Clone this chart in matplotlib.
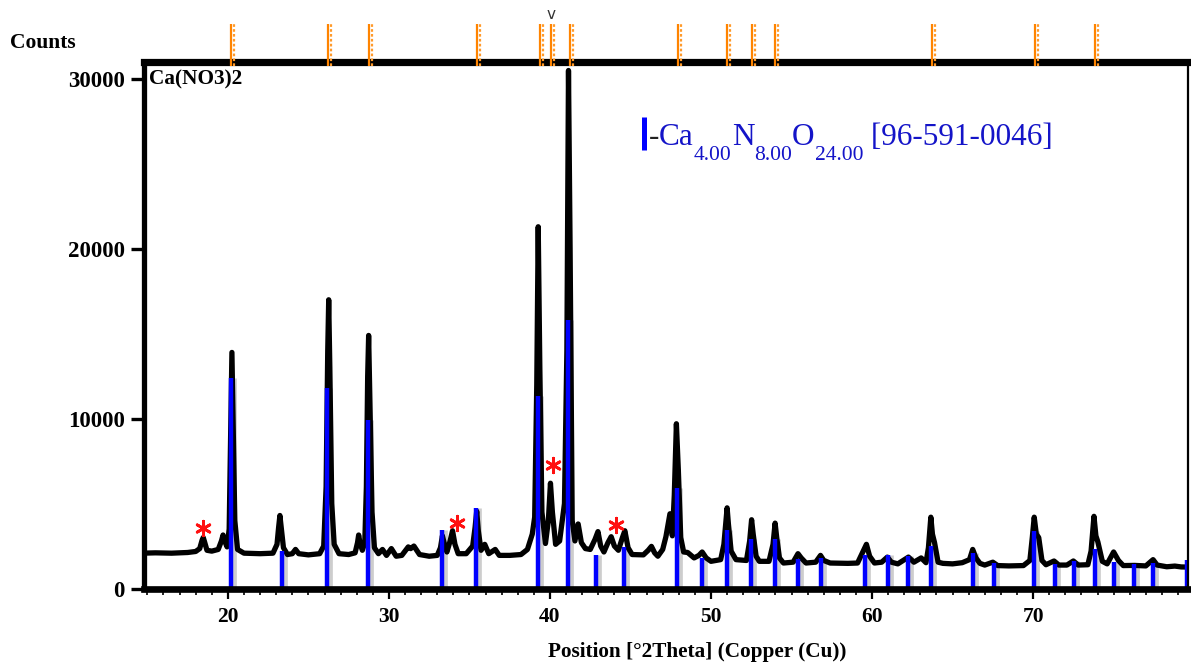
import matplotlib
matplotlib.use("Agg")
import matplotlib.pyplot as plt
from matplotlib.ticker import MultipleLocator, FixedLocator
from matplotlib.transforms import blended_transform_factory, offset_copy

# Measured diffraction pattern (2θ in degrees, intensity in counts)
two_theta = [
    14.7, 15.5, 16.5, 17.5, 18.0, 18.25, 18.4, 18.47, 18.55, 18.7, 19.0, 19.4,
    19.6, 19.7, 19.8, 19.95, 20.08, 20.17, 20.25, 20.33, 20.43, 20.6, 21.0, 22.0,
    22.8, 23.05, 23.15, 23.23, 23.32, 23.45, 23.7, 24.0, 24.2, 24.4, 25.0, 25.7,
    25.95, 26.1, 26.2, 26.26, 26.33, 26.45, 26.6, 26.9, 27.5, 27.9, 28.05, 28.12,
    28.2, 28.35, 28.5, 28.6, 28.68, 28.74, 28.82, 28.95, 29.1, 29.35, 29.6, 29.85,
    30.15, 30.45, 30.8, 31.2, 31.35, 31.55, 31.9, 32.5, 33.0, 33.2, 33.32, 33.45,
    33.6, 33.8, 33.95, 34.1, 34.3, 34.8, 35.2, 35.35, 35.45, 35.55, 35.72, 35.95,
    36.2, 36.6, 36.85, 37.5, 38.2, 38.6, 38.9, 39.05, 39.18, 39.27, 39.37, 39.5,
    39.72, 39.9, 40.03, 40.15, 40.35, 40.6, 40.9, 41.05, 41.15, 41.25, 41.38, 41.55,
    41.75, 41.95, 42.2, 42.5, 42.8, 42.98, 43.15, 43.35, 43.6, 43.8, 44.0, 44.25,
    44.5, 44.65, 44.85, 45.1, 45.8, 46.1, 46.3, 46.5, 46.7, 47.0, 47.2, 47.45,
    47.6, 47.72, 47.85, 47.97, 48.12, 48.3, 48.55, 48.95, 49.25, 49.45, 49.7, 50.0,
    50.6, 50.8, 50.93, 51.0, 51.08, 51.25, 51.55, 52.2, 52.4, 52.52, 52.62, 52.8,
    53.0, 53.6, 53.85, 53.98, 54.08, 54.25, 54.5, 55.1, 55.4, 55.6, 55.9, 56.5,
    56.8, 57.0, 57.4, 58.5, 59.1, 59.45, 59.65, 59.85, 60.15, 60.6, 60.95, 61.2,
    61.6, 62.26, 62.6, 63.05, 63.35, 63.5, 63.65, 63.75, 63.88, 64.1, 64.4, 65.0,
    65.6, 66.05, 66.25, 66.45, 66.7, 67.0, 67.5, 67.8, 68.5, 69.4, 69.8, 69.95,
    70.07, 70.2, 70.35, 70.55, 70.8, 71.3, 71.6, 72.1, 72.5, 72.8, 73.4, 73.6,
    73.78, 73.9, 74.02, 74.3, 74.6, 75.0, 75.3, 75.6, 76.3, 77.0, 77.45, 77.7,
    78.3, 78.8, 79.2, 79.7,
]
counts = [
    2080, 2100, 2080, 2120, 2180, 2350, 2850, 3000, 2750, 2250, 2200, 2300,
    2800, 3150, 2800, 2450, 3500, 9000, 13900, 9500, 4000, 2300, 2080, 2050,
    2080, 2600, 3600, 4300, 3500, 2400, 2000, 2050, 2300, 2050, 1980, 2050,
    2500, 6000, 14000, 17000, 13000, 5000, 2600, 2050, 2000, 2100, 2700, 3150,
    2700, 2250, 2700, 6000, 12500, 14900, 11000, 4500, 2400, 2050, 2300, 1950,
    2350, 1900, 1950, 2450, 2350, 2500, 2000, 1900, 1950, 2400, 3100, 2600,
    2150, 2800, 3400, 2600, 2050, 2050, 2500, 3600, 4550, 3400, 2250, 2600,
    2050, 2300, 1950, 1950, 2000, 2300, 3200, 4200, 12000, 21300, 13000, 4500,
    2650, 4000, 6200, 4500, 2600, 2800, 5000, 14000, 30500, 20000, 4000, 2800,
    3800, 2700, 2350, 2300, 2900, 3350, 2500, 2150, 2700, 3050, 2500, 2250,
    3000, 3400, 2400, 2000, 1980, 2250, 2480, 2100, 1900, 2300, 3050, 4400,
    3100, 5500, 9700, 7000, 3000, 2150, 2120, 1800, 1950, 2150, 1800, 1600,
    1700, 2600, 4000, 4750, 3800, 2200, 1700, 1650, 2800, 4050, 3200, 1900,
    1600, 1600, 2600, 3850, 3000, 1800, 1500, 1550, 2050, 1800, 1500, 1550,
    1950, 1650, 1500, 1480, 1500, 2200, 2600, 1900, 1500, 1550, 1850, 1550,
    1450, 1850, 1550, 1800, 1520, 2400, 4200, 3200, 2700, 1550, 1480, 1450,
    1520, 1700, 2300, 1800, 1480, 1380, 1550, 1350, 1330, 1350, 1650, 3000,
    4200, 3200, 3000, 1650, 1400, 1620, 1380, 1380, 1620, 1380, 1400, 2200,
    4250, 3100, 2750, 1600, 1450, 2150, 1650, 1350, 1360, 1330, 1700, 1380,
    1280, 1320, 1270, 1260,
]

# Reference pattern Ca4N8O24 [96-591-0046]: stick positions and intensities
ref_pos = [20.18, 23.35, 26.18, 28.70, 33.28, 35.40, 39.27, 41.15, 42.88, 44.60,
           47.86, 49.43, 50.98, 52.48, 53.97, 55.42, 56.83, 59.59, 60.98, 62.26,
           63.63, 66.26, 67.55, 70.06, 71.34, 72.55, 73.83, 75.03, 76.25, 77.46,
           79.55]
ref_int = [12400, 2210, 11800, 9900, 3450, 4730, 11340, 15800, 1970, 2430,
           5900, 1820, 3450, 2900, 2900, 1720, 1820, 1970, 1970, 1920,
           2520, 2070, 1520, 3390, 1430, 1620, 2330, 1580, 1430, 1500,
           1680]

# Peak list markers drawn above the plot
peak_list = [20.19, 26.23, 28.78, 35.47, 39.39, 40.06, 41.22, 47.94, 51.02,
             52.57, 54.0, 63.73, 70.11, 73.86]
selected_peak = 40.06

# Unassigned reflections flagged with an asterisk
star_pos = [18.46, 34.2, 40.2, 44.07]
star_cnt = [3560, 3860, 7280, 3740]

x_ticks = [20, 30, 40, 50, 60, 70]
y_ticks = [0, 10000, 20000, 30000]
x_range = (14.76, 79.65)
y_range = (0, 31000)

plt.rcParams["font.family"] = ["Liberation Serif", "DejaVu Serif"]
plt.rcParams["font.weight"] = "bold"

fig = plt.figure(figsize=(11.91, 6.68), dpi=100)
ax = fig.add_axes([0.12049, 0.11901, 0.87741, 0.78817])
ax.set_xlim(*x_range)
ax.set_ylim(*y_range)

# Kα2 shadow sticks, reference sticks and measured pattern
shadow = offset_copy(ax.transData, fig=fig, x=3, y=0, units="dots")
ax.vlines(ref_pos, 0, ref_int, colors="#cdcdcd", linewidth=3.4,
          transform=shadow, zorder=2)
ax.plot(two_theta, counts, color="black", linewidth=3.8,
        solid_joinstyle="round", solid_capstyle="round", zorder=3)
ax.vlines(ref_pos, 0, ref_int, colors="#0000ff", linewidth=3.2, zorder=4)

ax.scatter(star_pos, star_cnt, marker=(6, 2, 0), s=110, color="#ff1010",
           linewidths=2.0, zorder=5)

# Peak list ticks above the frame (solid Kα1 and dotted Kα2 lines)
top = blended_transform_factory(ax.transData, ax.transAxes)
ax.vlines(peak_list, 0.992, 1.072, colors="#ff8400", linewidth=1.6,
          transform=top, clip_on=False, zorder=7)
ax.vlines(peak_list, 0.992, 1.072, colors="#ff9a2a", linewidth=1.6,
          linestyles=(0, (1.2, 1.0)),
          transform=offset_copy(top, fig=fig, x=3, y=0, units="dots"),
          clip_on=False, zorder=7)
ax.text(selected_peak, 1.09, "v", transform=top, ha="center", va="center",
        fontsize=11, fontweight="normal", family="DejaVu Sans",
        color="#333333", clip_on=False)

# Frame
for side, lw in (("left", 3.8), ("bottom", 4.8), ("top", 5.2), ("right", 1.6)):
    ax.spines[side].set_linewidth(lw)
    ax.spines[side].set_zorder(6)

ax.xaxis.set_major_locator(FixedLocator(x_ticks))
ax.xaxis.set_minor_locator(MultipleLocator(1))
ax.yaxis.set_major_locator(FixedLocator(y_ticks))
ax.set_xticklabels([str(v) for v in x_ticks])
ax.set_yticklabels([str(v) for v in y_ticks])
ax.tick_params(axis="x", which="major", direction="out", length=7, width=1.6,
               pad=6, labelsize=15.5)
ax.tick_params(axis="x", which="minor", direction="out", length=4.2, width=1.2)
ax.tick_params(axis="y", which="major", direction="out", length=9.5, width=2.4,
               pad=4, labelsize=16.5)

# Labels
fig.text(10 / 1191, 1 - 43 / 668, "Counts", ha="left", va="center",
         fontsize=15.5, fontweight="bold")
fig.text(697 / 1191, 1 - 652 / 668, "Position [°2Theta] (Copper (Cu))",
         ha="center", va="center", fontsize=15.3, fontweight="bold")
ax.text(0.005, 0.966, "Ca(NO3)2", transform=ax.transAxes, ha="left",
        va="center", fontsize=15.3, fontweight="bold")

# Legend entry for the reference pattern
ax.plot([0.4785, 0.4785], [0.833, 0.8955], transform=ax.transAxes,
        color="#0000ff", linewidth=3.6, solid_capstyle="butt", zorder=5)
legend_blue = "#1414c8"
main_size, sub_size = 22.5, 15.5
first = ax.text(0.4835, 0.8424, "-", transform=ax.transAxes, ha="left",
                va="baseline", fontsize=main_size, fontweight="normal",
                color="#222222")
pieces = [("Ca", False), ("4.00", True), ("N", False), ("8.00", True),
          ("O", False), ("24.00", True), (" [96-591-0046]", False)]
prev = first
anchor = first
for txt, is_sub in pieces:
    if is_sub:
        art = ax.annotate(txt, xy=(1, 0), xycoords=(prev, anchor),
                          xytext=(0, 4.5), textcoords="offset points",
                          ha="left", va="top", fontsize=sub_size,
                          fontweight="normal", color=legend_blue)
    else:
        art = ax.annotate(txt, xy=(1, 0), xycoords=(prev, anchor),
                          ha="left", va="bottom", fontsize=main_size,
                          fontweight="normal", color=legend_blue)
    prev = art

fig.savefig("out.png", dpi=100)
